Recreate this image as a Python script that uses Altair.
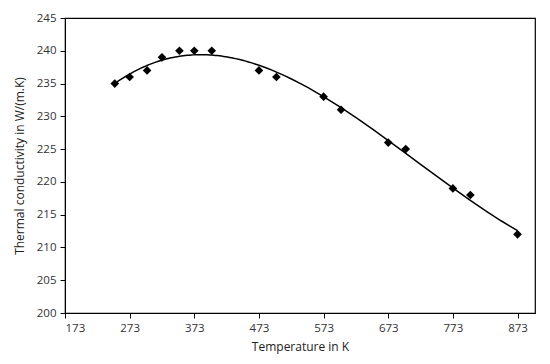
import altair as alt
import pandas as pd

temperature = [250, 273, 300, 323, 350, 373, 400, 473, 500, 573, 600, 673, 700, 773, 800, 873]
conductivity = [235, 236, 237, 239, 240, 240, 240, 237, 236, 233, 231, 226, 225, 219, 218, 212]
x_ticks = [173, 273, 373, 473, 573, 673, 773, 873]
y_ticks = [200, 205, 210, 215, 220, 225, 230, 235, 240, 245]

df = pd.DataFrame({"T": temperature, "k": conductivity})

FONT = "Open Sans"

x = alt.X("T:Q", scale=alt.Scale(domain=[173, 900], nice=False, zero=False),
          axis=alt.Axis(values=x_ticks, title="Temperature in K", grid=False))
y = alt.Y("k:Q", scale=alt.Scale(domain=[200, 245], nice=False, zero=False),
          axis=alt.Axis(values=y_ticks, title="Thermal conductivity in W/(m.K)", grid=False))

pts = alt.Chart(df).mark_point(shape="diamond", filled=True, color="black", size=75, opacity=1).encode(x=x, y=y)

trend = alt.Chart(df).transform_regression(
    "T", "k", method="poly", order=3, extent=[250, 873]
).mark_line(color="black", strokeWidth=1.5).encode(x=x, y=y)

chart = (trend + pts).properties(
    width=470, height=295,
    autosize=alt.AutoSizeParams(type="none"),
    padding={"left": 57, "top": 10, "right": 7, "bottom": 42},
).configure_view(stroke="black", strokeWidth=1.2).configure_axis(
    domainColor="black", tickColor="black", tickSize=5, labelFont=FONT, titleFont=FONT,
    labelFontSize=11.5, titleFontSize=12, labelColor="#333", titleColor="#222",
    titleFontWeight="normal", labelPadding=4,
).configure_axisY(titlePadding=10).configure_axisX(titlePadding=8)

chart.save("out.html", embed_options={"renderer": "svg", "actions": False})
